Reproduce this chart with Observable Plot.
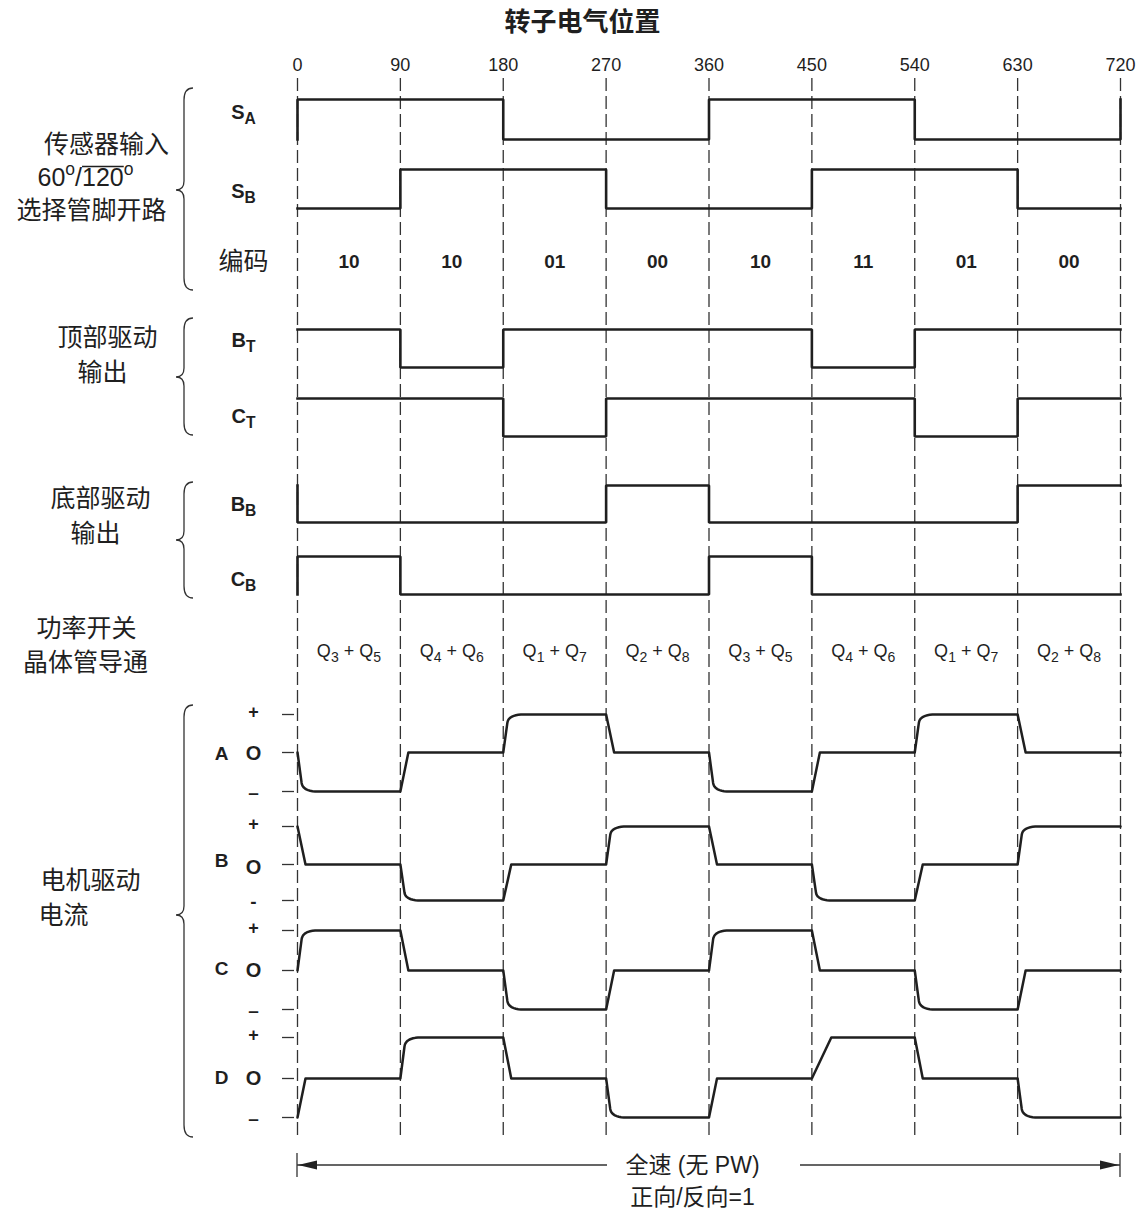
<!DOCTYPE html>
<html><head><meta charset="utf-8">
<script src="https://cdn.jsdelivr.net/npm/d3@7"></script>
<script src="https://cdn.jsdelivr.net/npm/@observablehq/plot@0.6"></script>
<style>html,body{margin:0;background:#fff;} svg{display:block}</style>
</head><body><div id="chart"></div>
<script>
// ---------------- data ----------------
const degreeTicks = [0, 90, 180, 270, 360, 450, 540, 630, 720];
const title = "转子电气位置";
const codes = ["10", "10", "01", "00", "10", "11", "01", "00"];
const switchPairs = ["Q_{3} + Q_{5}", "Q_{4} + Q_{6}", "Q_{1} + Q_{7}", "Q_{2} + Q_{8}",
                     "Q_{3} + Q_{5}", "Q_{4} + Q_{6}", "Q_{1} + Q_{7}", "Q_{2} + Q_{8}"];
const logicNames = ["S_{A}", "S_{B}", "B_{T}", "C_{T}", "B_{B}", "C_{B}"];
const SA = [1, 1, 0, 0, 1, 1, 0, 0];
const SB = [0, 1, 1, 0, 0, 1, 1, 0];
const BT = [1, 0, 1, 1, 1, 0, 1, 1];
const CT = [1, 1, 0, 1, 1, 1, 0, 1];
const BB = [0, 0, 0, 1, 0, 0, 0, 1];
const CB = [1, 0, 0, 0, 1, 0, 0, 0];
const logicStart = [0, 0, 1, 1, 1, 0];   // level just before 0°
const logicEnd = [1, 0, 1, 1, 1, 0];     // level reached at 720°
const currentNames = ["A", "B", "C", "D"];
const IA = [-1, 0, 1, 0, -1, 0, 1, 0];
const IB = [0, -1, 0, 1, 0, -1, 0, 1];
const IC = [1, 0, -1, 0, 1, 0, -1, 0];
const ID = [0, 1, 0, -1, 0, 1, 0, -1];
const slowRamps = [{wave: "D", at: 450}];
const levelSigns = [["+", "O", "–"], ["+", "O", "-"], ["+", "O", "–"], ["+", "O", "–"]];
const groupLabels = ["传感器输入", "60^{o}/~{120}^{o}", "选择管脚开路", "编码", "顶部驱动", "输出",
                     "底部驱动", "输出", "功率开关", "晶体管导通", "电机驱动", "电流"];
const footer = ["全速 (无 PW)", "正向/反向=1"];

// ---------------- layout ----------------
const W = 1144, H = 1214;
const X0 = 297, X1 = 1120;
const X = px => (px - X0) * 720 / (X1 - X0);
const LAT = "'Liberation Sans', Arial, sans-serif";
const CJK = "'Noto Sans CJK SC', 'Liberation Sans', sans-serif";
const INK = "#1f1f1f";

const logicLayout = [
  {hi: 99, lo: 139, label: 112}, {hi: 169, lo: 208, label: 191},
  {hi: 329, lo: 367, label: 340}, {hi: 398, lo: 436, label: 416},
  {hi: 485, lo: 522, label: 504}, {hi: 556, lo: 594, label: 579}
];
const currentLayout = [
  {p: 714, o: 752, m: 791, label: 753, oLab: 753},
  {p: 826, o: 864, m: 900, label: 860, oLab: 867},
  {p: 930, o: 970, m: 1009, label: 968, oLab: 970},
  {p: 1037, o: 1078, m: 1117, label: 1077, oLab: 1078}
];
const groupPos = [[106,144],[85,177],[91,210],[243,261],[107,337],[102,372],[100,498],[95,533],[86,628],[85,662],[90,880],[63,915]];
const braces = [{top: 88, bottom: 290, tip: 190}, {top: 318, bottom: 435, tip: 377},
                {top: 482, bottom: 598, tip: 540}, {top: 705, bottom: 1137, tip: 915}];

// ---------------- derived series ----------------
const logicSets = [SA, SB, BT, CT, BB, CB];
const logicPoints = logicSets.flatMap((levels, k) => {
  const L = logicLayout[k];
  const yOf = v => L.lo - v * (L.lo - L.hi);
  const pts = [{x: 0, v: logicStart[k]}];
  levels.forEach((v, i) => { pts.push({x: i * 90, v}); pts.push({x: (i + 1) * 90, v}); });
  pts.push({x: 720, v: logicEnd[k]});
  return pts.map(p => ({name: logicNames[k], x: p.x, y: yOf(p.v)}));
});

function shapePoints(levels, name) {
  const pts = [];
  const n = levels.length;
  let prev = levels[n - 1];
  for (let i = 0; i < n; i++) {
    const a = i * 90, to = levels[i];
    if (prev === to) { if (i === 0) pts.push([a, to]); }
    else if (to === 0) { pts.push([a, prev], [a + 7, 0]); }
    else if (slowRamps.some(s => s.wave === name && s.at === a)) { pts.push([a, 0], [a + 17, to]); }
    else {
      const sx = a + 3.6, sv = 0.78 * to, cx = a + 4.6, ex = a + 18;
      pts.push([a, 0], [sx, sv]);
      for (let t = 0.1; t <= 1.0001; t += 0.1) {
        const u = 1 - t;
        pts.push([u * u * sx + 2 * u * t * cx + t * t * ex, u * u * sv + 2 * u * t * to + t * t * to]);
      }
    }
    prev = to;
  }
  pts.push([720, levels[n - 1]]);
  return pts;
}
const currentSets = [IA, IB, IC, ID];
const currentPoints = currentSets.flatMap((levels, k) => {
  const L = currentLayout[k];
  const yOf = v => v >= 0 ? L.o - v * (L.o - L.p) : L.o - v * (L.m - L.o);
  return shapePoints(levels, currentNames[k]).map(([x, v]) => ({name: currentNames[k], x, y: yOf(v)}));
});
const levelTicks = currentLayout.flatMap(L => [L.p, L.o, L.m]);
const signLabels = currentLayout.flatMap((L, k) => [
  {t: levelSigns[k][0], y: L.p - 2, fs: 18}, {t: levelSigns[k][1], y: L.oLab, fs: 20}, {t: levelSigns[k][2], y: L.m + 1, fs: 19}
]);
const segCenters = codes.map((_, i) => i * 90 + 45);

// ---------------- decorations ----------------
function bracePath(x, y1, y2, ym) {
  const p = d3.path();
  p.moveTo(x + 9, y1);
  p.quadraticCurveTo(x, y1, x, y1 + 12);
  p.lineTo(x, ym - 9);
  p.quadraticCurveTo(x, ym, x - 8, ym);
  p.quadraticCurveTo(x, ym, x, ym + 9);
  p.lineTo(x, y2 - 12);
  p.quadraticCurveTo(x, y2, x + 9, y2);
  return p.toString();
}
const deco = (index, scales) => {
  const sx = scales && scales.x ? scales.x : (d => X0 + d * (X1 - X0) / 720);
  const g = d3.create("svg:g");
  braces.forEach(b => g.append("path").attr("d", bracePath(184, b.top, b.bottom, b.tip))
    .attr("fill", "none").attr("stroke", "#333").attr("stroke-width", 1.3));
  const ya = 1165, xa = sx(0), xb = sx(720);
  g.append("path").attr("d", `M${xa},1153V1177M${xb},1153V1177M${xa},${ya}H607M800,${ya}H${xb}`)
    .attr("stroke", "#333").attr("stroke-width", 1.3).attr("fill", "none");
  g.append("path").attr("d", `M${xa + 1},${ya}l19,-4.5v9zM${xb - 1},${ya}l-19,-4.5v9z`).attr("fill", "#222");
  return g.node();
};

// ---------------- plot ----------------
const chart = Plot.plot({
  width: W, height: H,
  marginTop: 75, marginBottom: 74, marginLeft: X0, marginRight: W - X1,
  style: {fontFamily: LAT, background: "#fff", color: INK},
  x: {domain: [0, 720], range: [X0, X1]},
  y: {domain: [0, H], range: [0, H], axis: null},
  marks: [
    Plot.axisX(degreeTicks, {anchor: "top", tickSize: 0, tickPadding: 5, fontSize: 18, fontFamily: LAT, tickFormat: d => String(d), label: null}),
    Plot.ruleX(degreeTicks, {y1: 78, y2: 1140, stroke: "#333", strokeWidth: 1.3, strokeDasharray: "13,5"}),
    Plot.line(logicPoints, {x: "x", y: "y", z: "name", stroke: INK, strokeWidth: 2.6, strokeLinejoin: "miter", strokeLinecap: "square"}),
    Plot.line(currentPoints, {x: "x", y: "y", z: "name", stroke: INK, strokeWidth: 2.5, strokeLinejoin: "round"}),
    Plot.ruleY(levelTicks, {y: d => d, x1: X(282), x2: X(294), stroke: "#333", strokeWidth: 1.3}),
    Plot.text([title], {x: X(582), y: 22, text: d => d, fontFamily: CJK, fontWeight: "bold", fontSize: 26, fill: INK}),
    Plot.text(codes, {x: (d, i) => segCenters[i], y: 261, text: d => d, fontWeight: "bold", fontSize: 19, fill: INK}),
    Plot.text(switchPairs, {x: (d, i) => segCenters[i], y: 651, text: d => d, fontSize: 18, fill: INK}),
    Plot.text(logicNames, {x: X(243), y: (d, i) => logicLayout[i].label, text: d => d, fontWeight: "bold", fontSize: 20, fill: INK}),
    Plot.text(currentNames, {x: X(221), y: (d, i) => currentLayout[i].label, text: d => d, fontWeight: "bold", fontSize: 19, fill: INK}),
    Plot.text(signLabels, {x: X(253), y: "y", text: "t", fontWeight: "bold", fontSize: "fs", fill: INK}),
    Plot.text(groupLabels, {x: (d, i) => X(groupPos[i][0]), y: (d, i) => groupPos[i][1], text: d => d,
      fontFamily: CJK, fontSize: 25, fill: INK}),
    Plot.text(footer, {x: X(692), y: (d, i) => [1165, 1197][i], text: d => d, fontFamily: "'Liberation Sans', 'Noto Sans CJK SC', sans-serif", fontSize: 23, fill: INK}),
    deco
  ]
});

// rich-text: _{sub}, ^{sup}, ~{overline}
const overlined = [];
function richText(svg) {
  const ns = "http://www.w3.org/2000/svg";
  d3.select(svg).selectAll("text").each(function () {
    const s = this.textContent;
    if (!/[_^~]\{/.test(s)) return;
    let fs = 16, el = this;
    while (el && el.getAttribute) { const f = el.getAttribute("font-size"); if (f) { fs = parseFloat(f); break; } el = el.parentNode; }
    if (/^\d/.test(s)) this.setAttribute("font-family", LAT);
    while (this.firstChild) this.removeChild(this.firstChild);
    let cur = 0;
    for (const m of s.matchAll(/([_^~])\{([^}]*)\}|([^_^~]+)/g)) {
      const t = document.createElementNS(ns, "tspan");
      let shift = 0;
      if (m[1] === "_") { shift = fs * 0.27; t.setAttribute("font-size", fs * 0.78); t.textContent = m[2]; }
      else if (m[1] === "^") { shift = -fs * 0.42; t.setAttribute("font-size", fs * 0.7); t.textContent = m[2]; }
      else if (m[1] === "~") { t.textContent = m[2]; overlined.push({tspan: t, text: this, fs}); }
      else t.textContent = m[3];
      if (shift - cur !== 0) t.setAttribute("dy", shift - cur);
      cur = shift;
      this.appendChild(t);
    }
  });
}
richText(chart);
document.getElementById("chart").appendChild(chart);
// draw overlines after layout
for (const {tspan, text, fs} of overlined) {
  const n = tspan.getNumberOfChars();
  const a = tspan.getStartPositionOfChar(0), b = tspan.getEndPositionOfChar(n - 1);
  const line = document.createElementNS("http://www.w3.org/2000/svg", "line");
  const yl = a.y - fs * 0.76;
  line.setAttribute("x1", a.x); line.setAttribute("x2", b.x);
  line.setAttribute("y1", yl); line.setAttribute("y2", yl);
  line.setAttribute("stroke", INK); line.setAttribute("stroke-width", 1.4);
  const tr = text.getAttribute("transform");
  if (tr) line.setAttribute("transform", tr);
  text.parentNode.appendChild(line);
}
</script>
</body></html>
